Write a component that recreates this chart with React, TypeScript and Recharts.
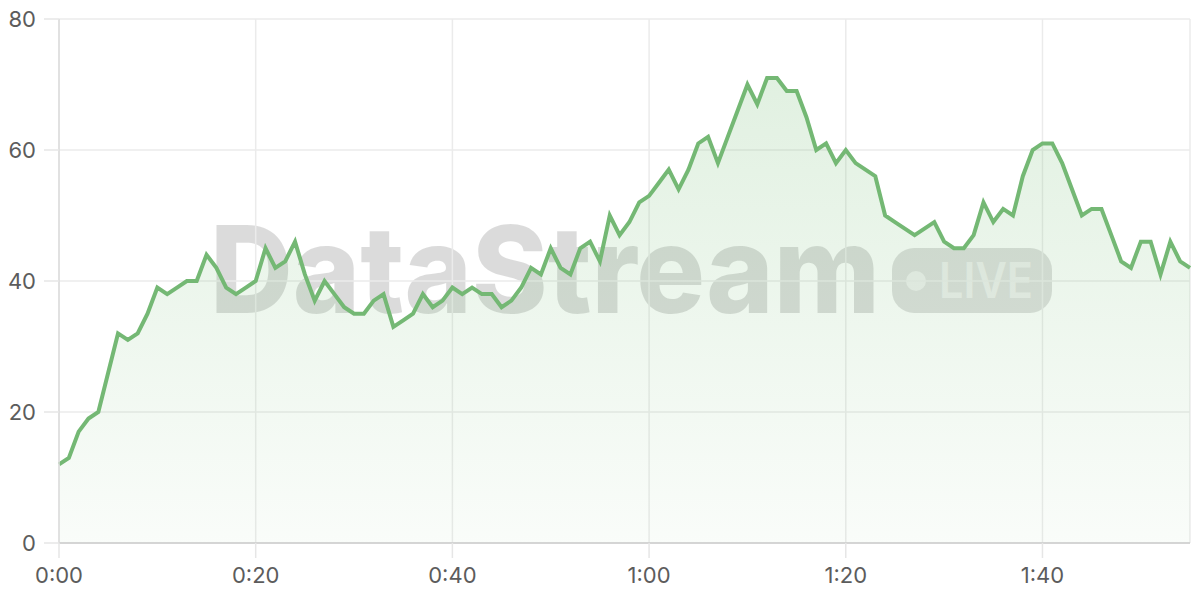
import React from "react"
import { AreaChart, Area, XAxis, YAxis, CartesianGrid } from "recharts"

// one reading per second, 0:00 .. 1:55
const seconds = Array.from({ length: 116 }, (_, i) => i)
const values = [
    12, 13, 17, 19, 20, 26, 32, 31, 32, 35, 39, 38, 39, 40, 40, 44, 42, 39, 38, 39,
    40, 45, 42, 43, 46, 41, 37, 40, 38, 36, 35, 35, 37, 38, 33, 34, 35, 38, 36, 37,
    39, 38, 39, 38, 38, 36, 37, 39, 42, 41, 45, 42, 41, 45, 46, 43, 50, 47, 49, 52,
    53, 55, 57, 54, 57, 61, 62, 58, 62, 66, 70, 67, 71, 71, 69, 69, 65, 60, 61, 58,
    60, 58, 57, 56, 50, 49, 48, 47, 48, 49, 46, 45, 45, 47, 52, 49, 51, 50, 56, 60,
    61, 61, 58, 54, 50, 51, 51, 47, 43, 42, 46, 46, 41, 46, 43, 42,
]
const xTicks = [0, 20, 40, 60, 80, 100]
const yTicks = [0, 20, 40, 60, 80]

const data = seconds.map((t, i) => ({ t, value: values[i] }))

const fmtTime = (v: number) => `${Math.floor(v / 60)}:${String(v % 60).padStart(2, "0")}`

const tickStyle = { fill: "#5c5c5c", fontSize: 22, fontFamily: "Inter, sans-serif" }

const Watermark: React.FC = () => (
    <svg width={1200} height={600} style={{ position: "absolute", left: 0, top: 0 }}>
        <text
            x={210}
            y={313}
            fontFamily="Inter, sans-serif"
            fontWeight={800}
            fontSize={121}
            textLength={670}
            lengthAdjust="spacingAndGlyphs"
            fill="rgba(0,0,0,0.14)"
        >
            DataStream
        </text>
        <rect x={892} y={248} width={160} height={65} rx={22} fill="rgba(0,0,0,0.13)" />
        <circle cx={916} cy={281} r={10} fill="rgba(255,255,255,0.5)" />
        <text
            x={939}
            y={298}
            fontFamily="Inter, sans-serif"
            fontWeight={600}
            fontSize={50}
            textLength={94}
            lengthAdjust="spacingAndGlyphs"
            fill="rgba(255,255,255,0.5)"
        >
            LIVE
        </text>
    </svg>
)

const App: React.FC = () => {
    return (
        <div style={{ position: "fixed", left: 0, top: 0, width: 1200, height: 600, background: "#fff" }}>
            <Watermark />
            <div style={{ position: "absolute", left: 0, top: 0 }}>
                <AreaChart width={1200} height={600} data={data} margin={{ top: 19, right: 10, bottom: 0, left: 0 }}>
                    <defs>
                        <linearGradient id="fillGreen" x1="0" y1="0" x2="0" y2="1">
                            <stop offset="0%" stopColor="#7cc07c" stopOpacity={0.38} />
                            <stop offset="100%" stopColor="#7cc07c" stopOpacity={0.07} />
                        </linearGradient>
                    </defs>
                    <CartesianGrid stroke="#ebebeb" strokeWidth={1.5} />
                    <XAxis
                        dataKey="t"
                        type="number"
                        domain={[0, 115]}
                        ticks={xTicks}
                        tickFormatter={fmtTime}
                        height={57}
                        tickSize={15}
                        tickMargin={9}
                        tick={tickStyle}
                        tickLine={{ stroke: "#e6e6e6", strokeWidth: 1.5 }}
                        axisLine={{ stroke: "#cccccc", strokeWidth: 1.5 }}
                    />
                    <YAxis
                        domain={[0, 80]}
                        ticks={yTicks}
                        width={59}
                        tickSize={15}
                        tickMargin={8}
                        tick={tickStyle}
                        tickLine={{ stroke: "#e6e6e6", strokeWidth: 1.5 }}
                        axisLine={{ stroke: "#dddddd", strokeWidth: 1.5 }}
                    />
                    <Area
                        type="linear"
                        dataKey="value"
                        stroke="#74b874"
                        strokeWidth={4}
                        fill="url(#fillGreen)"
                        dot={false}
                        activeDot={false}
                        isAnimationActive={false}
                    />
                </AreaChart>
            </div>
        </div>
    )
}

export default App
